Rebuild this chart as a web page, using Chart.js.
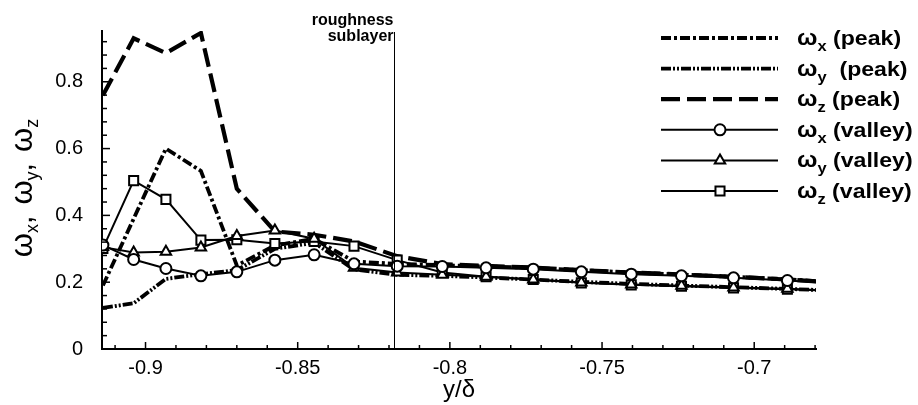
<!DOCTYPE html>
<html>
<head>
<meta charset="utf-8">
<script src="https://cdn.jsdelivr.net/npm/chart.js@4.4.0/dist/chart.umd.min.js"></script>
<style>
  body { margin: 0; background: #fff; }
</style>
</head>
<body>
<canvas id="myChart" width="918" height="405"></canvas>
<script>
// stations y/delta (last one lies past the axis end and gets clipped)
const yDelta = [-0.9140, -0.9039, -0.8933, -0.8818, -0.8700, -0.8575, -0.8446, -0.8315, -0.8173,
                -0.8025, -0.7881, -0.7726, -0.7568, -0.7404, -0.7239, -0.7068, -0.6891, -0.6711];

const wxPeak   = [0.190, 0.390, 0.600, 0.533, 0.250, 0.310, 0.330, 0.262, 0.255, 0.251, 0.247, 0.243, 0.236, 0.229, 0.223, 0.216, 0.209, 0.198];
const wyPeak   = [0.123, 0.137, 0.210, 0.224, 0.236, 0.300, 0.318, 0.238, 0.222, 0.219, 0.214, 0.208, 0.201, 0.195, 0.190, 0.185, 0.180, 0.174];
const wzPeak   = [0.760, 0.930, 0.886, 0.946, 0.480, 0.352, 0.342, 0.322, 0.278, 0.254, 0.249, 0.244, 0.236, 0.229, 0.223, 0.216, 0.208, 0.197];
const wxValley = [0.311, 0.268, 0.241, 0.219, 0.231, 0.266, 0.282, 0.255, 0.248, 0.247, 0.243, 0.239, 0.231, 0.224, 0.219, 0.213, 0.205, 0.195];
const wyValley = [0.305, 0.289, 0.291, 0.304, 0.338, 0.355, 0.330, 0.243, 0.229, 0.222, 0.216, 0.208, 0.199, 0.193, 0.189, 0.184, 0.180, 0.174];
const wzValley = [0.301, 0.504, 0.448, 0.326, 0.327, 0.316, 0.322, 0.308, 0.266, 0.229, 0.216, 0.208, 0.198, 0.192, 0.188, 0.183, 0.179, 0.173];

const xTickVals = [-0.9, -0.85, -0.8, -0.75, -0.7];
const yTickVals = [0, 0.2, 0.4, 0.6, 0.8];
const sublayerEdge = -0.8184;

const legendSubs = ['x', 'y', 'z', 'x', 'y', 'z'];
const legendKinds = ['(peak)', ' (peak)', '(peak)', '(valley)', '(valley)', '(valley)'];

const FONT = '"Liberation Sans", Arial, Helvetica, sans-serif';
Chart.defaults.font.family = FONT;
Chart.defaults.color = '#000';

function pts(vals) {
    return vals.map((v, i) => ({ x: yDelta[i], y: v }));
}

const peakStyle = { borderColor: '#000', pointRadius: 0, tension: 0, borderWidth: 3.8, order: 1 };
const valleyStyle = {
    borderColor: '#000', borderWidth: 2, tension: 0, order: 0,
    pointBackgroundColor: '#fff', pointBorderColor: '#000', pointBorderWidth: 2
};

const datasets = [
    Object.assign({ label: 'ωx (peak)', data: pts(wxPeak), borderDash: [10, 3, 3, 3] }, peakStyle),
    Object.assign({ label: 'ωy (peak)', data: pts(wyPeak), borderDash: [10, 2, 2, 2, 2, 2] }, peakStyle),
    Object.assign({ label: 'ωz (peak)', data: pts(wzPeak), borderDash: [19, 7] }, peakStyle, { borderWidth: 4.2 }),
    Object.assign({ label: 'ωx (valley)', data: pts(wxValley), pointStyle: 'circle', pointRadius: 5.5 }, valleyStyle),
    Object.assign({ label: 'ωy (valley)', data: pts(wyValley), pointStyle: 'triangle', pointRadius: 6 }, valleyStyle),
    Object.assign({ label: 'ωz (valley)', data: pts(wzValley), pointStyle: 'rect', pointRadius: 6.4 }, valleyStyle)
];

// text with subscripts: parts = [text, size, dy, weight]
function richWidth(ctx, parts) {
    let w = 0;
    for (const p of parts) {
        ctx.font = (p[3] || '') + ' ' + p[1] + 'px ' + FONT;
        w += ctx.measureText(p[0]).width;
    }
    return w;
}
function drawRich(ctx, x, y, parts) {
    let cx = x;
    for (const p of parts) {
        ctx.font = (p[3] || '') + ' ' + p[1] + 'px ' + FONT;
        ctx.fillText(p[0], cx, y + p[2]);
        cx += ctx.measureText(p[0]).width;
    }
}

function drawMarker(ctx, style, x, y, r) {
    ctx.beginPath();
    if (style === 'circle') {
        ctx.arc(x, y, r, 0, Math.PI * 2);
    } else if (style === 'triangle') {
        for (let k = 0; k < 3; k++) {
            const a = -Math.PI / 2 + k * 2 * Math.PI / 3;
            const px = x + r * Math.cos(a), py = y + r * Math.sin(a);
            if (k === 0) ctx.moveTo(px, py); else ctx.lineTo(px, py);
        }
        ctx.closePath();
    } else {
        const s = r * Math.SQRT1_2;
        ctx.rect(x - s, y - s, 2 * s, 2 * s);
    }
    ctx.fillStyle = '#fff';
    ctx.fill();
    ctx.stroke();
}

const decor = {
    id: 'decor',
    afterDraw(chart) {
        const ctx = chart.ctx;
        const xs = chart.scales.x, ys = chart.scales.y;
        const area = chart.chartArea;
        ctx.save();
        ctx.strokeStyle = '#000';
        ctx.fillStyle = '#000';

        // inward ticks, minor every 0.01 / 0.04
        ctx.lineWidth = 1.5;
        for (let k = -91; k <= -68; k++) {
            const px = xs.getPixelForValue(k / 100);
            const len = k % 5 === 0 ? 7 : 4;
            ctx.beginPath();
            ctx.moveTo(px, area.bottom);
            ctx.lineTo(px, area.bottom - len);
            ctx.stroke();
        }
        for (let k = 0; k <= 23; k++) {
            const py = ys.getPixelForValue(k * 0.04);
            const len = k % 5 === 0 ? 8 : 5;
            ctx.beginPath();
            ctx.moveTo(area.left, py);
            ctx.lineTo(area.left + len, py);
            ctx.stroke();
        }

        // roughness sublayer edge
        const ex = Math.round(xs.getPixelForValue(sublayerEdge)) + 0.5;
        ctx.lineWidth = 1;
        ctx.beginPath();
        ctx.moveTo(ex, area.top + 1);
        ctx.lineTo(ex, area.bottom);
        ctx.stroke();
        ctx.font = 'bold 16px ' + FONT;
        ctx.textAlign = 'right';
        ctx.textBaseline = 'alphabetic';
        ctx.fillText('roughness', ex - 1, 25);
        ctx.fillText('sublayer', ex - 1, 41);

        // y axis title
        ctx.textAlign = 'left';
        const title = [
            ['ω', 31, 0], ['x', 18, 6], [',', 30, 0], ['  ', 20, 0],
            ['ω', 31, 0], ['y', 18, 6], [',', 30, 0], ['  ', 20, 0],
            ['ω', 31, 0], ['z', 18, 6]
        ];
        ctx.save();
        ctx.translate(32, 188);
        ctx.rotate(-Math.PI / 2);
        drawRich(ctx, -richWidth(ctx, title) / 2, 0, title);
        ctx.restore();

        // legend
        chart.data.datasets.forEach((ds, i) => {
            const ry = 38 + i * 30.6;
            ctx.lineWidth = ds.borderWidth;
            ctx.setLineDash(ds.borderDash || []);
            ctx.beginPath();
            ctx.moveTo(661, ry);
            ctx.lineTo(778, ry);
            ctx.stroke();
            ctx.setLineDash([]);
            if (ds.pointStyle) {
                ctx.lineWidth = 2;
                drawMarker(ctx, ds.pointStyle, 720, ry, ds.pointRadius);
            }
            ctx.fillStyle = '#000';
            ctx.save();
            ctx.translate(797, ry + 7);
            ctx.scale(1.1, 1);
            drawRich(ctx, 0, 0, [['ω', 22, 0, 'bold'], [legendSubs[i], 15, 6, 'bold'], [' ' + legendKinds[i], 21, 0, 'bold']]);
            ctx.restore();
        });
        ctx.restore();
    }
};

const config = {
    type: 'line',
    data: { datasets: datasets },
    options: {
        responsive: false,
        devicePixelRatio: 1,
        animation: false,
        layout: { padding: { left: 0, right: 102, top: 21, bottom: 0 } },
        plugins: { legend: { display: false }, tooltip: { enabled: false } },
        scales: {
            x: {
                type: 'linear',
                min: -0.9143,
                max: -0.6797,
                afterBuildTicks: (s) => { s.ticks = xTickVals.map(v => ({ value: v })); },
                afterFit: (s) => { s.height = 56; },
                grid: { display: false, drawTicks: false },
                border: { color: '#000', width: 2 },
                ticks: { font: { size: 20 }, padding: 7, maxRotation: 0, callback: (v) => String(+v.toFixed(2)) },
                title: { display: true, text: 'y/δ', font: { size: 24 }, padding: { top: 0, bottom: 0 } }
            },
            y: {
                min: 0,
                max: 0.952,
                afterBuildTicks: (s) => { s.ticks = yTickVals.map(v => ({ value: v })); },
                afterFit: (s) => { s.width = 102; },
                grid: { display: false, drawTicks: false },
                border: { color: '#000', width: 2 },
                ticks: { font: { size: 20 }, padding: 19, callback: (v) => String(+v.toFixed(1)) }
            }
        }
    },
    plugins: [decor]
};

const myChart = new Chart(document.getElementById('myChart'), config);
</script>
</body>
</html>
